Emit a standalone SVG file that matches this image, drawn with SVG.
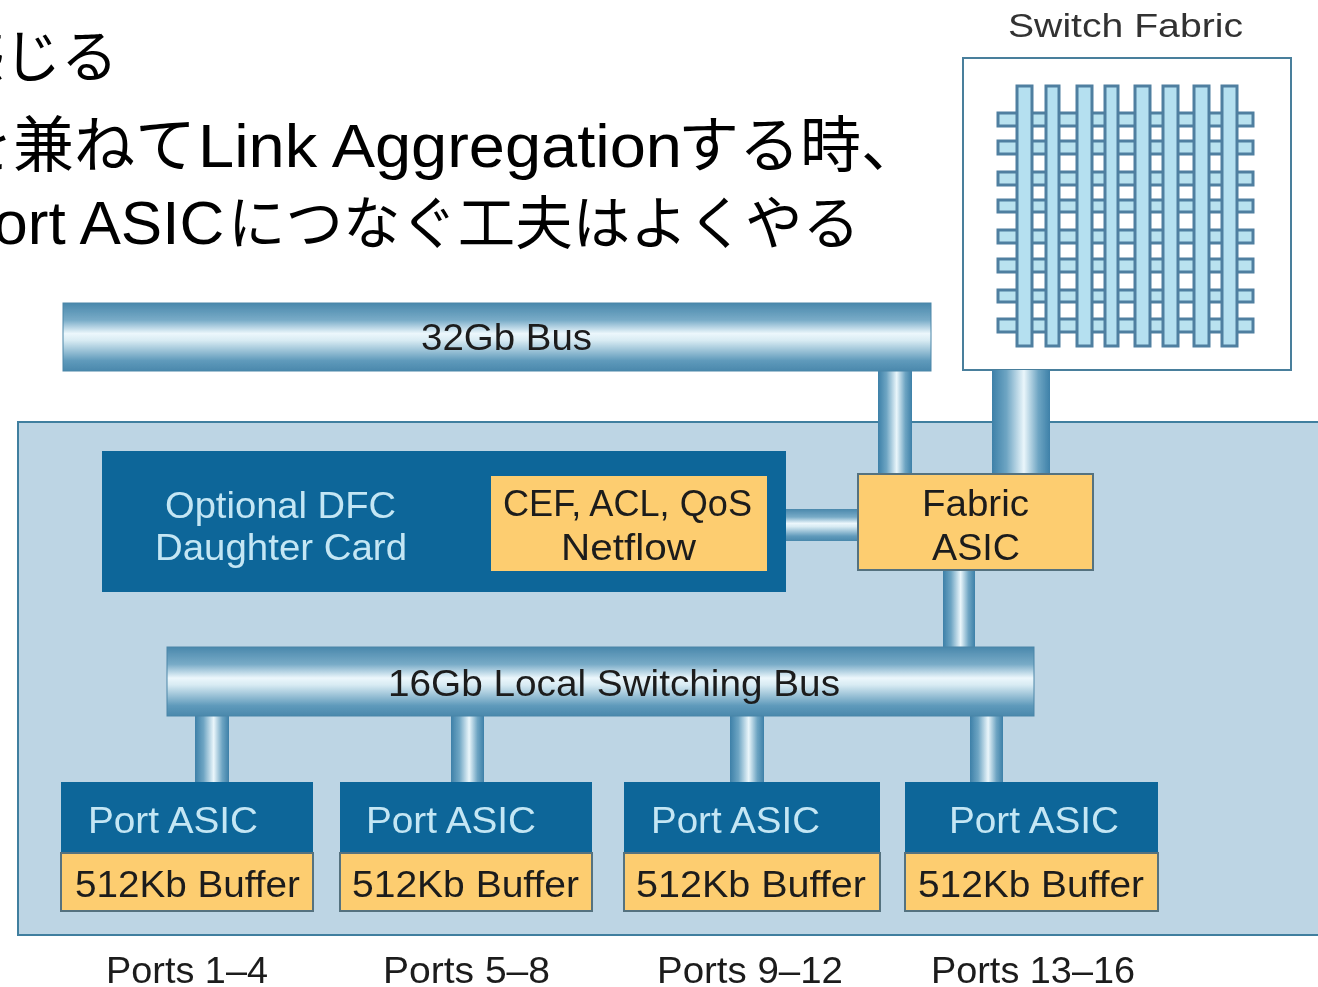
<svg xmlns="http://www.w3.org/2000/svg" width="1318" height="987" viewBox="0 0 1318 987">
<style>
text{font-family:"Liberation Sans","Noto Sans CJK JP",sans-serif;fill:#1c1c1c}
.h{fill:#000}
.l{font-size:37px}
.lt{fill:#c4e6f4}
.y{fill:#fdcd70}
.ys{fill:#fdcd70;stroke:#55727f;stroke-width:2}
.d{fill:#0b6699}
.v{fill:url(#gv)}
.b{fill:url(#gh);stroke:#4a86a8;stroke-width:1}
.s{filter:url(#soft)}
</style>
<defs>
<filter id="soft" x="-5%" y="-5%" width="110%" height="110%"><feGaussianBlur stdDeviation="0.6"/></filter>
<linearGradient id="gv" x1="0" x2="1" y1="0" y2="0"><stop offset="0" stop-color="#3d80a8"/><stop offset=".25" stop-color="#6ea5c3"/><stop offset=".55" stop-color="#eaf6fb"/><stop offset=".8" stop-color="#6ea5c3"/><stop offset="1" stop-color="#3d80a8"/></linearGradient>
<linearGradient id="gh" x1="0" x2="0" y1="0" y2="1"><stop offset="0" stop-color="#4a88ac"/><stop offset=".25" stop-color="#78abc7"/><stop offset=".45" stop-color="#ecf7fc"/><stop offset=".55" stop-color="#d8ebf3"/><stop offset=".85" stop-color="#5f9abb"/><stop offset="1" stop-color="#4a88ac"/></linearGradient>
</defs>
<rect width="1318" height="987" fill="#fff"/>
<g id="slide-text">
<text class="h" x="-53" y="77" font-size="57">感じる</text>
<text class="h" x="-48" y="167" font-size="61">を兼ねて</text>
<text class="h" x="198" y="167" font-size="62" textLength="484" lengthAdjust="spacingAndGlyphs">Link Aggregation</text>
<text class="h" x="678" y="167" font-size="61">する時、</text>
<text class="h" x="-48" y="244" font-size="62">Port ASIC</text>
<text class="h" x="228" y="244" font-size="58" textLength="632" lengthAdjust="spacingAndGlyphs">につなぐ工夫はよくやる</text>
</g>
<g id="line-card" class="s"><rect x="18" y="422" width="1310" height="513" fill="#bdd5e4" stroke="#3f7f9f" stroke-width="2"/></g>
<g id="switch-fabric" class="s">
<text x="1008" y="37" style="font-size:33px;fill:#333" textLength="235" lengthAdjust="spacingAndGlyphs">Switch Fabric</text>
<rect x="963" y="58" width="328" height="312" fill="#fff" stroke="#4a7f9c" stroke-width="2"/>
<g id="grid-h" fill="#b9e2ef" stroke="#4f7fa0" stroke-width="3">
<rect x="998" y="113" width="255" height="13"/><rect x="998" y="141" width="255" height="13"/><rect x="998" y="172" width="255" height="13"/><rect x="998" y="200" width="255" height="12"/><rect x="998" y="230" width="255" height="13"/><rect x="998" y="259" width="255" height="13"/><rect x="998" y="290" width="255" height="12"/><rect x="998" y="319" width="255" height="13"/>
</g>
<g id="grid-v" fill="#b5e0f0" stroke="#4f7fa0" stroke-width="3">
<rect x="1017" y="86" width="15" height="260"/><rect x="1046" y="86" width="13" height="260"/><rect x="1077" y="86" width="15" height="260"/><rect x="1105" y="86" width="13" height="260"/><rect x="1135" y="86" width="15" height="260"/><rect x="1163" y="86" width="15" height="260"/><rect x="1194" y="86" width="15" height="260"/><rect x="1222" y="86" width="15" height="260"/>
</g>
</g>
<g id="connectors" class="s">
<rect class="v" x="878" y="371" width="34" height="103"/>
<rect class="v" x="992" y="370" width="58" height="104"/>
<rect class="v" x="943" y="570" width="32" height="77"/>
<rect x="786" y="509" width="72" height="32" fill="url(#gh)"/>
<rect class="v" x="195" y="716" width="34" height="66"/>
<rect class="v" x="451" y="716" width="33" height="66"/>
<rect class="v" x="730" y="716" width="34" height="66"/>
<rect class="v" x="970" y="716" width="33" height="66"/>
</g>
<g id="bus-32" class="s"><rect class="b" x="63" y="303" width="868" height="68"/><text class="l" x="421" y="350" textLength="171" lengthAdjust="spacingAndGlyphs">32Gb Bus</text></g>
<g id="bus-16" class="s"><rect class="b" x="167" y="647" width="867" height="69"/><text class="l" x="388" y="696" textLength="452" lengthAdjust="spacingAndGlyphs">16Gb Local Switching Bus</text></g>
<g id="dfc" class="s"><rect class="d" x="102" y="451" width="684" height="141"/>
<text class="l lt" x="165" y="518" textLength="231" lengthAdjust="spacingAndGlyphs">Optional DFC</text><text class="l lt" x="155" y="560" textLength="252" lengthAdjust="spacingAndGlyphs">Daughter Card</text></g>
<g id="cef" class="s"><rect class="y" x="491" y="476" width="276" height="95"/><text class="l" x="503" y="516" textLength="249" lengthAdjust="spacingAndGlyphs">CEF, ACL, QoS</text><text class="l" x="561" y="560" textLength="135" lengthAdjust="spacingAndGlyphs">Netflow</text></g>
<g id="fabric-asic" class="s"><rect class="ys" x="858" y="474" width="235" height="96"/><text class="l" x="922" y="516" textLength="107" lengthAdjust="spacingAndGlyphs">Fabric</text><text class="l" x="932" y="560" textLength="88" lengthAdjust="spacingAndGlyphs">ASIC</text></g>
<g id="port1" class="s"><rect class="d" x="61" y="782" width="252" height="71"/><text class="l lt" x="88" y="833" textLength="170" lengthAdjust="spacingAndGlyphs">Port ASIC</text><rect class="ys" x="61" y="853" width="252" height="58"/><text class="l" x="75" y="897" textLength="225" lengthAdjust="spacingAndGlyphs">512Kb Buffer</text></g>
<g id="port2" class="s"><rect class="d" x="340" y="782" width="252" height="71"/><text class="l lt" x="366" y="833" textLength="170" lengthAdjust="spacingAndGlyphs">Port ASIC</text><rect class="ys" x="340" y="853" width="252" height="58"/><text class="l" x="352" y="897" textLength="227" lengthAdjust="spacingAndGlyphs">512Kb Buffer</text></g>
<g id="port3" class="s"><rect class="d" x="624" y="782" width="256" height="71"/><text class="l lt" x="651" y="833" textLength="169" lengthAdjust="spacingAndGlyphs">Port ASIC</text><rect class="ys" x="624" y="853" width="256" height="58"/><text class="l" x="636" y="897" textLength="230" lengthAdjust="spacingAndGlyphs">512Kb Buffer</text></g>
<g id="port4" class="s"><rect class="d" x="905" y="782" width="253" height="71"/><text class="l lt" x="949" y="833" textLength="170" lengthAdjust="spacingAndGlyphs">Port ASIC</text><rect class="ys" x="905" y="853" width="253" height="58"/><text class="l" x="918" y="897" textLength="226" lengthAdjust="spacingAndGlyphs">512Kb Buffer</text></g>
<g id="port-labels" class="s">
<text class="l" x="106" y="983" textLength="162" lengthAdjust="spacingAndGlyphs">Ports 1–4</text><text class="l" x="383" y="983" textLength="167" lengthAdjust="spacingAndGlyphs">Ports 5–8</text><text class="l" x="657" y="983" textLength="186" lengthAdjust="spacingAndGlyphs">Ports 9–12</text><text class="l" x="931" y="983" textLength="204" lengthAdjust="spacingAndGlyphs">Ports 13–16</text>
</g>
</svg>
